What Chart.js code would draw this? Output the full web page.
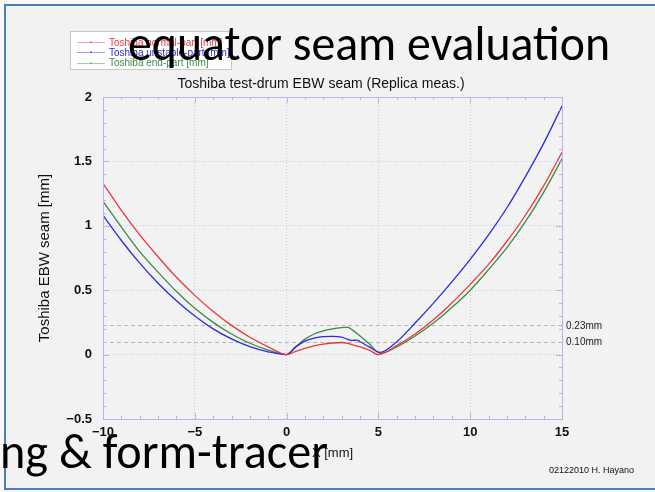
<!DOCTYPE html>
<html>
<head>
<meta charset="utf-8">
<script src="https://cdn.jsdelivr.net/npm/chart.js@4.4.1/dist/chart.umd.min.js"></script>
<style>
  html, body { margin: 0; padding: 0; background: #f8f8f8; overflow: hidden; }
  #slide {
    position: absolute; left: 4px; top: 4px; width: 700px; height: 482px;
    background: #f2f2f2;
    border-top: 2px solid #4a7ebb; border-left: 2px solid #4a7ebb; border-bottom: 2px solid #4a7ebb;
  }
  #wrap { position: absolute; left: 0; top: 0; width: 655px; height: 492px; }
</style>
</head>
<body>
<div id="slide"></div>
<div id="wrap"><canvas id="seamChart" width="655" height="492"></canvas></div>
<script>
// ===== Data =====
const legendLabels = ['Toshiba normal-part [mm]', 'Toshiba unstable-part [mm]', 'Toshiba end-part [mm]'];

const redX = [-10, -9, -8, -7, -6, -5, -4, -3, -2, -1, 0, 0.5, 1, 1.5, 2, 2.5, 3, 3.5, 4, 4.5, 5, 6, 7, 8, 9, 10, 11, 12, 13, 14, 15];
const redY = [1.33, 1.12, 0.93, 0.76, 0.60, 0.46, 0.335, 0.227, 0.135, 0.06, 0, 0.025, 0.048, 0.068, 0.082, 0.09, 0.094, 0.08, 0.06, 0.035, 0, 0.07, 0.16, 0.27, 0.40, 0.545, 0.70, 0.88, 1.08, 1.31, 1.57];

const blueX = [-10, -9, -8, -7, -6, -5, -4, -3, -2, -1, 0, 0.5, 1, 1.5, 2, 2.5, 3, 3.3, 3.6, 3.8, 4, 4.5, 5.1, 6, 7, 8, 9, 10, 11, 12, 13, 14, 15];
const blueY = [1.08, 0.886, 0.71, 0.554, 0.418, 0.30, 0.20, 0.122, 0.062, 0.022, 0, 0.06, 0.105, 0.128, 0.14, 0.142, 0.135, 0.12, 0.11, 0.113, 0.10, 0.06, 0.018, 0.10, 0.245, 0.40, 0.565, 0.74, 0.93, 1.14, 1.38, 1.64, 1.93];

const greenX = [-10, -9, -8, -7, -6, -5, -4, -3, -2, -1, 0, 0.5, 1, 1.5, 2, 2.5, 3, 3.3, 3.6, 4, 4.5, 5.1, 6, 7, 8, 9, 10, 11, 12, 13, 14, 15];
const greenY = [1.19, 0.99, 0.80, 0.64, 0.49, 0.36, 0.25, 0.16, 0.088, 0.035, 0, 0.06, 0.12, 0.16, 0.185, 0.20, 0.21, 0.213, 0.19, 0.145, 0.085, 0.01, 0.06, 0.145, 0.245, 0.365, 0.50, 0.66, 0.83, 1.03, 1.26, 1.52];

const refLevels = [0.23, 0.10];
const refLabels = ['0.23mm', '0.10mm'];

const xMin = -10, xMax = 15, xStep = 5, xMinor = 1;
const yMin = -0.5, yMax = 2, yStep = 0.5, yMinor = 0.1;

// ===== Styles =====
const FONT = '"Liberation Sans", Arial, sans-serif';
const SLIDE_FONT = 'Carlito, Calibri, Lato, sans-serif';
const AXIS_COLOR = '#b4b4ee';
const GRID_COLOR = '#c9c9f0';

function toPoints(xs, ys) {
    return xs.map((x, i) => ({ x: x, y: ys[i] }));
}

function fmtTick(v) {
    return v < 0 ? '\u2212' + Math.abs(v) : String(v);
}

// ===== Plugin: reference lines (under curves) =====
const refLinesPlugin = {
    id: 'refLines',
    beforeDatasetsDraw(chart) {
        const { ctx, chartArea, scales } = chart;
        ctx.save();
        ctx.strokeStyle = '#b8b8b8';
        ctx.lineWidth = 1;
        ctx.setLineDash([4, 3]);
        refLevels.forEach(v => {
            const y = Math.round(scales.y.getPixelForValue(v)) + 0.5;
            ctx.beginPath();
            ctx.moveTo(chartArea.left, y);
            ctx.lineTo(chartArea.right, y);
            ctx.stroke();
        });
        ctx.restore();
    }
};

// ===== Plugin: frame, minor ticks, texts, legend, slide overlay =====
const decoPlugin = {
    id: 'deco',
    afterDraw(chart) {
        const { ctx, chartArea: a, scales } = chart;
        ctx.save();

        // plot frame
        ctx.strokeStyle = AXIS_COLOR;
        ctx.lineWidth = 1;
        ctx.strokeRect(Math.round(a.left) + 0.5, Math.round(a.top) + 0.5, Math.round(a.right - a.left), Math.round(a.bottom - a.top));

        // ticks on all four sides, pointing inward
        ctx.beginPath();
        for (let v = xMin; v <= xMax + 1e-9; v += xMinor) {
            const x = Math.round(scales.x.getPixelForValue(v)) + 0.5;
            const len = Math.abs(v % xStep) < 1e-9 ? 6 : 3;
            ctx.moveTo(x, a.bottom); ctx.lineTo(x, a.bottom - len);
            ctx.moveTo(x, a.top); ctx.lineTo(x, a.top + len);
        }
        for (let k = 0; k <= Math.round((yMax - yMin) / yMinor); k++) {
            const v = yMin + k * yMinor;
            const y = Math.round(scales.y.getPixelForValue(v)) + 0.5;
            const len = k % 5 === 0 ? 6 : 3;
            ctx.moveTo(a.left, y); ctx.lineTo(a.left + len, y);
            ctx.moveTo(a.right, y); ctx.lineTo(a.right - len, y);
        }
        ctx.stroke();

        // reference labels
        ctx.fillStyle = '#222';
        ctx.font = '10px ' + FONT;
        ctx.textBaseline = 'middle';
        ctx.textAlign = 'left';
        refLevels.forEach((v, i) => {
            ctx.fillText(refLabels[i], a.right + 4, scales.y.getPixelForValue(v) + 1);
        });

        // titles
        ctx.fillStyle = '#111';
        ctx.textAlign = 'center';
        ctx.font = '14px ' + FONT;
        ctx.fillText('Toshiba test-drum EBW seam (Replica meas.)', 321, 84);
        ctx.font = '13px ' + FONT;
        ctx.fillText('X [mm]', (a.left + a.right) / 2, 453);
        ctx.save();
        ctx.translate(45, (a.top + a.bottom) / 2);
        ctx.rotate(-Math.PI / 2);
        ctx.font = '15px ' + FONT;
        ctx.fillText('Toshiba EBW seam [mm]', 0, 0);
        ctx.restore();

        ctx.textAlign = 'left';
        ctx.font = '9px ' + FONT;
        ctx.fillText('02122010 H. Hayano', 549, 471);

        // legend box
        ctx.fillStyle = '#ffffff';
        ctx.fillRect(70, 31, 161, 38);
        ctx.strokeStyle = '#c8c8c8';
        ctx.strokeRect(70.5, 31.5, 161, 38);
        chart.data.datasets.forEach((ds, i) => {
            const y = 42 + i * 10.3;
            ctx.strokeStyle = ds.borderColor;
            ctx.globalAlpha = 0.45;
            ctx.beginPath();
            ctx.moveTo(77, Math.round(y) + 0.5);
            ctx.lineTo(105, Math.round(y) + 0.5);
            ctx.stroke();
            ctx.fillStyle = ds.borderColor;
            ctx.fillRect(90, Math.round(y) - 1, 2, 2);
            ctx.globalAlpha = 1;
            ctx.font = '10px ' + FONT;
            ctx.fillText(ds.label, 109, y + 1);
        });

        // slide text overlay (fit to measured widths)
        ctx.fillStyle = '#000';
        ctx.textBaseline = 'alphabetic';
        ctx.font = '49px ' + SLIDE_FONT;
        fitText(ctx, 'equator seam evaluation', 128, 60, 482);
        fitText(ctx, 'ng & form-tracer', 0, 468, 328);

        ctx.restore();
    }
};

function fitText(ctx, text, x, y, width) {
    const w = ctx.measureText(text).width;
    ctx.save();
    ctx.translate(x, y);
    ctx.scale(width / w, 1);
    ctx.fillText(text, 0, 0);
    ctx.restore();
}

// ===== Chart =====
const tickFont = { family: FONT, size: 13, weight: 'bold' };
const lineStyle = { showLine: true, pointRadius: 0, borderWidth: 1.3, cubicInterpolationMode: 'monotone', fill: false };

const ctx = document.getElementById('seamChart').getContext('2d');
const seamChart = new Chart(ctx, {
    type: 'scatter',
    data: {
        datasets: [
            Object.assign({ label: legendLabels[0], data: toPoints(redX, redY), borderColor: '#e8383a' }, lineStyle),
            Object.assign({ label: legendLabels[1], data: toPoints(blueX, blueY), borderColor: '#2a2ade' }, lineStyle),
            Object.assign({ label: legendLabels[2], data: toPoints(greenX, greenY), borderColor: '#3b8a46' }, lineStyle)
        ]
    },
    options: {
        responsive: false,
        animation: false,
        devicePixelRatio: 1,
        layout: { padding: { left: 0, top: 97, right: 93, bottom: 0 } },
        plugins: { legend: { display: false }, tooltip: { enabled: false }, title: { display: false } },
        scales: {
            x: {
                type: 'linear', min: xMin, max: xMax,
                ticks: { stepSize: xStep, callback: fmtTick, color: '#111', font: tickFont, padding: 6, maxRotation: 0 },
                grid: { color: GRID_COLOR, drawTicks: false, lineWidth: 1 },
                border: { display: false, dash: [1, 2] },
                afterFit: s => { s.height = 73; }
            },
            y: {
                type: 'linear', min: yMin, max: yMax,
                ticks: { stepSize: yStep, callback: fmtTick, color: '#111', font: tickFont, padding: 11 },
                grid: { color: GRID_COLOR, drawTicks: false, lineWidth: 1 },
                border: { display: false, dash: [1, 2] },
                afterFit: s => { s.width = 103; }
            }
        }
    },
    plugins: [refLinesPlugin, decoPlugin]
});
</script>
</body>
</html>
